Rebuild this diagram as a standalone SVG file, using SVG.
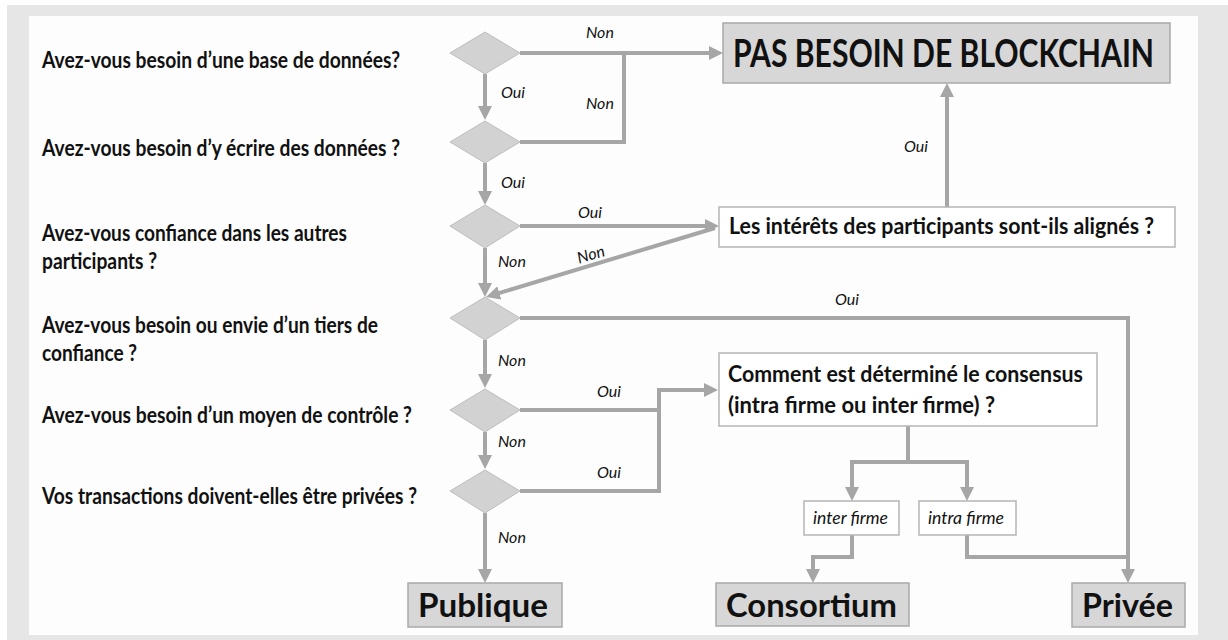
<svg xmlns="http://www.w3.org/2000/svg" width="1228" height="640" viewBox="0 0 1228 640">
<defs>
<style>
.q{font-family:Lato,"Liberation Sans",sans-serif;font-weight:bold;font-size:22px;fill:#111}
.lbl{font-family:Lato,"Liberation Sans",sans-serif;font-style:italic;font-size:16px;fill:#111}
.big{font-family:Lato,"Liberation Sans",sans-serif;font-weight:bold;fill:#111}
.dia{fill:#d2d2d2;stroke:#bdbdbd;stroke-width:1}
.gbox{fill:#d7d7d7;stroke:#a9a9a9;stroke-width:1.5}
.wbox{fill:#ffffff;stroke:#b5b5b5;stroke-width:1.5}
.sm{font-family:Lato,"Liberation Sans",sans-serif;font-style:italic;font-size:17px;fill:#111}
.c{fill:none;stroke:#a6a6a6;stroke-width:4}
.a{marker-end:url(#ah)}
</style>
<marker id="ah" markerUnits="userSpaceOnUse" markerWidth="14" markerHeight="14" viewBox="0 0 14 14" refX="4" refY="7" orient="auto">
<path d="M0,0 L14,7 L0,14 z" fill="#a6a6a6"/>
</marker>
</defs>
<rect x="7" y="5" width="1221" height="635" fill="#e6e6e6"/>
<rect x="29" y="16" width="1169" height="619" fill="#fdfdfd"/>

<g id="questions">
<text class="q" x="42" y="68" textLength="358" lengthAdjust="spacingAndGlyphs">Avez-vous besoin d’une base de données?</text>
<text class="q" x="42" y="156" textLength="358" lengthAdjust="spacingAndGlyphs">Avez-vous besoin d’y écrire des données ?</text>
<text class="q" x="42" y="241" textLength="305" lengthAdjust="spacingAndGlyphs">Avez-vous confiance dans les autres</text>
<text class="q" x="42" y="269" textLength="115" lengthAdjust="spacingAndGlyphs">participants ?</text>
<text class="q" x="42" y="333" textLength="336" lengthAdjust="spacingAndGlyphs">Avez-vous besoin ou envie d’un tiers de</text>
<text class="q" x="42" y="361" textLength="95" lengthAdjust="spacingAndGlyphs">confiance ?</text>
<text class="q" x="42" y="423" textLength="370" lengthAdjust="spacingAndGlyphs">Avez-vous besoin d’un moyen de contrôle ?</text>
<text class="q" x="42" y="504" textLength="375" lengthAdjust="spacingAndGlyphs">Vos transactions doivent-elles être privées ?</text>
</g>

<g id="connectors">
<path class="c a" d="M485,74 V110"/>
<path class="c a" d="M520,53 H713"/>
<path class="c" d="M520,142 H624 V53"/>
<path class="c a" d="M485,163 V195"/>
<path class="c a" d="M520,226 H709"/>
<path class="c a" d="M715,228 L495.6,294.1"/>
<path class="c a" d="M485,248 V287"/>
<path class="c a" d="M947,207 V93"/>
<path class="c a" d="M520,318 H1128 V573"/>
<path class="c a" d="M485,340 V378"/>
<path class="c a" d="M520,410 H659 V390 H708"/>
<path class="c" d="M520,491 H659 V410"/>
<path class="c a" d="M485,432 V459"/>
<path class="c a" d="M485,513 V573"/>
<path class="c" d="M908,426 V462"/>
<path class="c a" d="M908,462 H852 V491"/>
<path class="c a" d="M908,462 H967 V491"/>
<path class="c a" d="M852,535 V557 H813 V573"/>
<path class="c" d="M967,535 V557 H1128"/>
<text class="lbl" x="586" y="38">Non</text>
<text class="lbl" x="501" y="98">Oui</text>
<text class="lbl" x="586" y="109">Non</text>
<text class="lbl" x="501" y="188">Oui</text>
<text class="lbl" x="578" y="218">Oui</text>
<text class="lbl" x="591" y="260" text-anchor="middle" transform="rotate(-17 591 255)">Non</text>
<text class="lbl" x="498" y="267">Non</text>
<text class="lbl" x="847" y="305" text-anchor="middle">Oui</text>
<text class="lbl" x="498" y="366">Non</text>
<text class="lbl" x="597" y="397">Oui</text>
<text class="lbl" x="498" y="447">Non</text>
<text class="lbl" x="597" y="478">Oui</text>
<text class="lbl" x="498" y="543">Non</text>
<text class="lbl" x="904" y="152">Oui</text>
</g>

<g id="d1"><polygon class="dia" points="450,53 485,32 520,53 485,74"/></g>
<g id="d2"><polygon class="dia" points="450,142 485,121 520,142 485,163"/></g>
<g id="d3"><polygon class="dia" points="450,226 485,205 520,226 485,248"/></g>
<g id="d4"><polygon class="dia" points="450,318 485,297 520,318 485,340"/></g>
<g id="d5"><polygon class="dia" points="450,410 485,389 520,410 485,432"/></g>
<g id="d6"><polygon class="dia" points="450,491 485,470 520,491 485,513"/></g>

<g id="pas-besoin">
<rect class="gbox" x="723" y="23" width="447" height="60"/>
<text class="big" x="733" y="67" font-size="38" textLength="421" lengthAdjust="spacingAndGlyphs">PAS BESOIN DE BLOCKCHAIN</text>
</g>
<g id="interets">
<rect class="wbox" x="719" y="207" width="456" height="40"/>
<text class="q" x="729" y="234" textLength="425" lengthAdjust="spacingAndGlyphs">Les intérêts des participants sont-ils alignés ?</text>
</g>
<g id="consensus">
<rect class="wbox" x="719" y="353" width="378" height="73"/>
<text class="q" x="728" y="382" textLength="355" lengthAdjust="spacingAndGlyphs">Comment est déterminé le consensus</text>
<text class="q" x="728" y="413" textLength="267" lengthAdjust="spacingAndGlyphs">(intra firme ou inter firme) ?</text>
</g>
<g id="inter-firme">
<rect class="wbox" x="804" y="501" width="95" height="34"/>
<text class="sm" x="813" y="524" textLength="75" lengthAdjust="spacingAndGlyphs">inter firme</text>
</g>
<g id="intra-firme">
<rect class="wbox" x="919" y="501" width="97" height="34"/>
<text class="sm" x="928" y="524" textLength="76" lengthAdjust="spacingAndGlyphs">intra firme</text>
</g>
<g id="publique">
<rect class="gbox" x="408" y="583" width="154" height="44"/>
<text class="big" x="418" y="617" font-size="32" textLength="130" lengthAdjust="spacingAndGlyphs">Publique</text>
</g>
<g id="consortium">
<rect class="gbox" x="716" y="583" width="193" height="43"/>
<text class="big" x="726" y="617" font-size="32" textLength="171" lengthAdjust="spacingAndGlyphs">Consortium</text>
</g>
<g id="privee">
<rect class="gbox" x="1072" y="583" width="113" height="44"/>
<text class="big" x="1082" y="617" font-size="32" textLength="91" lengthAdjust="spacingAndGlyphs">Privée</text>
</g>
</svg>
